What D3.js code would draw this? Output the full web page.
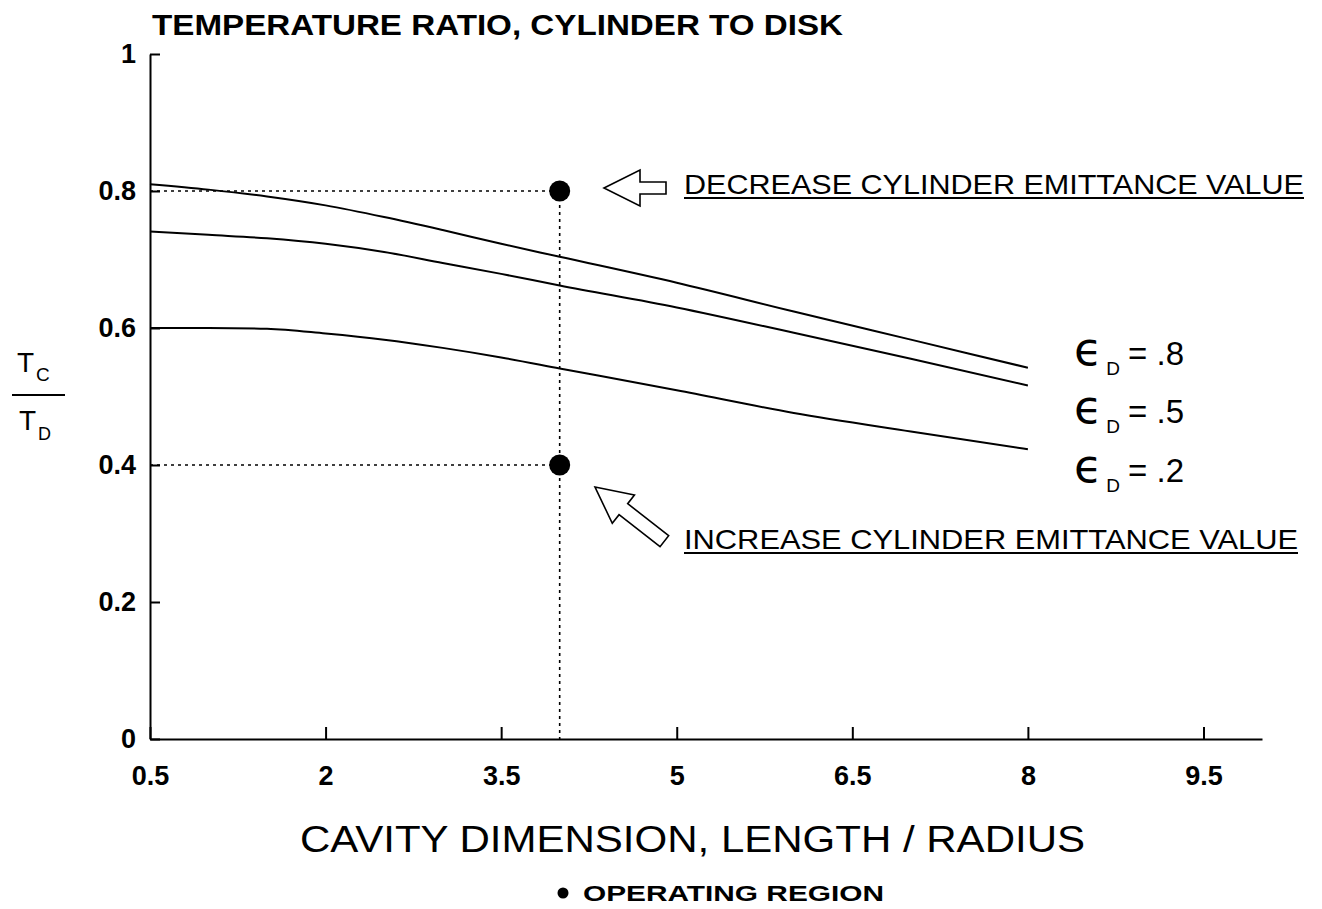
<!DOCTYPE html>
<html>
<head>
<meta charset="utf-8">
<script src="https://cdn.jsdelivr.net/npm/d3@7"></script>
<style>
  body { margin: 0; background: #fff; }
  text { font-family: "Liberation Sans", Arial, sans-serif; fill: #000; }
</style>
</head>
<body>
<div id="main"></div>
<script>
// cavity length / radius
var xValues = [0.5, 1, 1.5, 2, 2.5, 3, 3.5, 4, 5, 6, 7, 8];
// temperature ratio Tc/Td for each disk emittance
var eps08 = [0.810, 0.802, 0.792, 0.779, 0.762, 0.743, 0.723, 0.704, 0.666, 0.624, 0.583, 0.542];
var eps05 = [0.741, 0.736, 0.731, 0.723, 0.711, 0.695, 0.679, 0.662, 0.630, 0.593, 0.555, 0.516];
var eps02 = [0.600, 0.600, 0.599, 0.592, 0.583, 0.571, 0.557, 0.541, 0.509, 0.476, 0.449, 0.423];
var seriesLabels = [".8", ".5", ".2"];
var xTicks = [0.5, 2, 3.5, 5, 6.5, 8, 9.5];
var yTicks = [0, 0.2, 0.4, 0.6, 0.8, 1];
// operating region points
var opX = [4, 4];
var opY = [0.8, 0.4];

const svg = d3.select('#main')
    .append('svg')
    .attr('width', 1322)
    .attr('height', 909);

var x = d3.scaleLinear().domain([0.5, 10]).range([150, 1262]);
var y = d3.scaleLinear().domain([0, 1]).range([739, 54]);

// axes
var xAxis = svg.append('g')
    .attr('transform', 'translate(0,' + y(0) + ')')
    .call(d3.axisBottom(x).tickValues(xTicks).tickSize(-12).tickSizeOuter(0)
        .tickPadding(27).tickFormat(d3.format('')));
var yAxis = svg.append('g')
    .attr('transform', 'translate(' + x(0.5) + ',0)')
    .call(d3.axisLeft(y).tickValues(yTicks).tickSize(-10).tickSizeOuter(0)
        .tickPadding(14).tickFormat(d => d === 0 ? '0' : d === 1 ? '1' : d3.format('.1f')(d)));

[xAxis, yAxis].forEach(function(a) {
    a.attr('font-size', null).attr('font-family', null);
    a.selectAll('path.domain').attr('stroke', '#000').attr('stroke-width', 2);
    a.selectAll('.tick line').attr('stroke', '#000').attr('stroke-width', 2);
    a.selectAll('.tick text')
        .style('font-family', '"Liberation Sans", Arial, sans-serif')
        .style('font-size', '27px')
        .style('font-weight', 'bold')
        .attr('fill', '#000');
});

// guide lines to operating points
var dash = '3,4';
svg.append('path')
    .attr('d', d3.line()([[x(0.5), y(opY[0])], [x(opX[0]), y(opY[0])]]))
    .attr('stroke', '#000').attr('stroke-width', 1.6).attr('stroke-dasharray', dash);
svg.append('path')
    .attr('d', d3.line()([[x(0.5), y(opY[1])], [x(opX[1]), y(opY[1])]]))
    .attr('stroke', '#000').attr('stroke-width', 1.6).attr('stroke-dasharray', dash);
svg.append('path')
    .attr('d', d3.line()([[x(opX[0]), y(opY[0])], [x(opX[0]), y(0)]]))
    .attr('stroke', '#000').attr('stroke-width', 1.6).attr('stroke-dasharray', dash);

// curves
var line = d3.line()
    .x(d => x(d[0]))
    .y(d => y(d[1]))
    .curve(d3.curveMonotoneX);
[eps08, eps05, eps02].forEach(function(s) {
    svg.append('path')
        .attr('d', line(xValues.map((v, i) => [v, s[i]])))
        .attr('fill', 'none')
        .attr('stroke', '#000')
        .attr('stroke-width', 2);
});

// operating points
svg.selectAll('circle.op')
    .data(opX.map((v, i) => [v, opY[i]]))
    .enter().append('circle')
    .attr('class', 'op')
    .attr('cx', d => x(d[0]))
    .attr('cy', d => y(d[1]))
    .attr('r', 10.5)
    .attr('fill', '#000');

// hollow arrows (drawn pointing left, tip at origin)
var arrowPts = [[0, 0], [36, -18], [36, -6], [62, -6], [62, 6], [36, 6], [36, 18]];
var longArrowPts = [[0, 0], [36, -18], [36, -7], [88, -7], [88, 7], [36, 7], [36, 18]];
svg.append('path')
    .attr('d', d3.line()(arrowPts) + 'Z')
    .attr('transform', 'translate(604,188)')
    .attr('fill', '#fff').attr('stroke', '#000').attr('stroke-width', 1.6);
svg.append('path')
    .attr('d', d3.line()(longArrowPts) + 'Z')
    .attr('transform', 'translate(595,487) rotate(38)')
    .attr('fill', '#fff').attr('stroke', '#000').attr('stroke-width', 1.6);

// annotations
svg.append('text')
    .attr('x', 684).attr('y', 194)
    .attr('textLength', 620).attr('lengthAdjust', 'spacingAndGlyphs')
    .style('font-size', '28px')
    .text('DECREASE CYLINDER EMITTANCE VALUE');
svg.append('path')
    .attr('d', d3.line()([[684, 198], [1304, 198]]))
    .attr('stroke', '#000').attr('stroke-width', 2);
svg.append('text')
    .attr('x', 684).attr('y', 549)
    .attr('textLength', 614).attr('lengthAdjust', 'spacingAndGlyphs')
    .style('font-size', '28px')
    .text('INCREASE CYLINDER EMITTANCE VALUE');
svg.append('path')
    .attr('d', d3.line()([[684, 553], [1298, 553]]))
    .attr('stroke', '#000').attr('stroke-width', 2);

// series labels
var labelY = [365, 423, 482];
seriesLabels.forEach(function(lab, i) {
    var t = svg.append('text').attr('x', 1074).attr('y', labelY[i]);
    t.append('tspan').style('font-family', '"DejaVu Sans", sans-serif').style('font-size', '46px').text('\u03F5');
    t.append('tspan').attr('dx', 4).attr('dy', 10).style('font-size', '19px').text('D');
    t.append('tspan').attr('dx', 8).attr('dy', -10).style('font-size', '33px').text('= ' + lab);
});

// title
svg.append('text')
    .attr('x', 152).attr('y', 35)
    .attr('textLength', 691).attr('lengthAdjust', 'spacingAndGlyphs')
    .style('font-size', '29px').style('font-weight', 'bold')
    .text('TEMPERATURE RATIO, CYLINDER TO DISK');

// x axis title
svg.append('text')
    .attr('x', 300).attr('y', 852)
    .attr('textLength', 785).attr('lengthAdjust', 'spacingAndGlyphs')
    .style('font-size', '37px')
    .text('CAVITY DIMENSION, LENGTH / RADIUS');

// y axis label Tc / Td
var tc = svg.append('text').attr('x', 17).attr('y', 372);
tc.append('tspan').style('font-size', '28px').text('T');
tc.append('tspan').attr('dx', 2).attr('dy', 9).style('font-size', '19px').text('C');
svg.append('path')
    .attr('d', d3.line()([[12, 395], [65, 395]]))
    .attr('stroke', '#000').attr('stroke-width', 2);
var td = svg.append('text').attr('x', 19).attr('y', 430);
td.append('tspan').style('font-size', '28px').text('T');
td.append('tspan').attr('dx', 2).attr('dy', 10).style('font-size', '18px').text('D');

// footnote
svg.append('circle').attr('cx', 563).attr('cy', 893).attr('r', 5.5).attr('fill', '#000');
svg.append('text')
    .attr('x', 583).attr('y', 901)
    .attr('textLength', 301).attr('lengthAdjust', 'spacingAndGlyphs')
    .style('font-size', '22px').style('font-weight', 'bold')
    .text('OPERATING REGION');
</script>
</body>
</html>
